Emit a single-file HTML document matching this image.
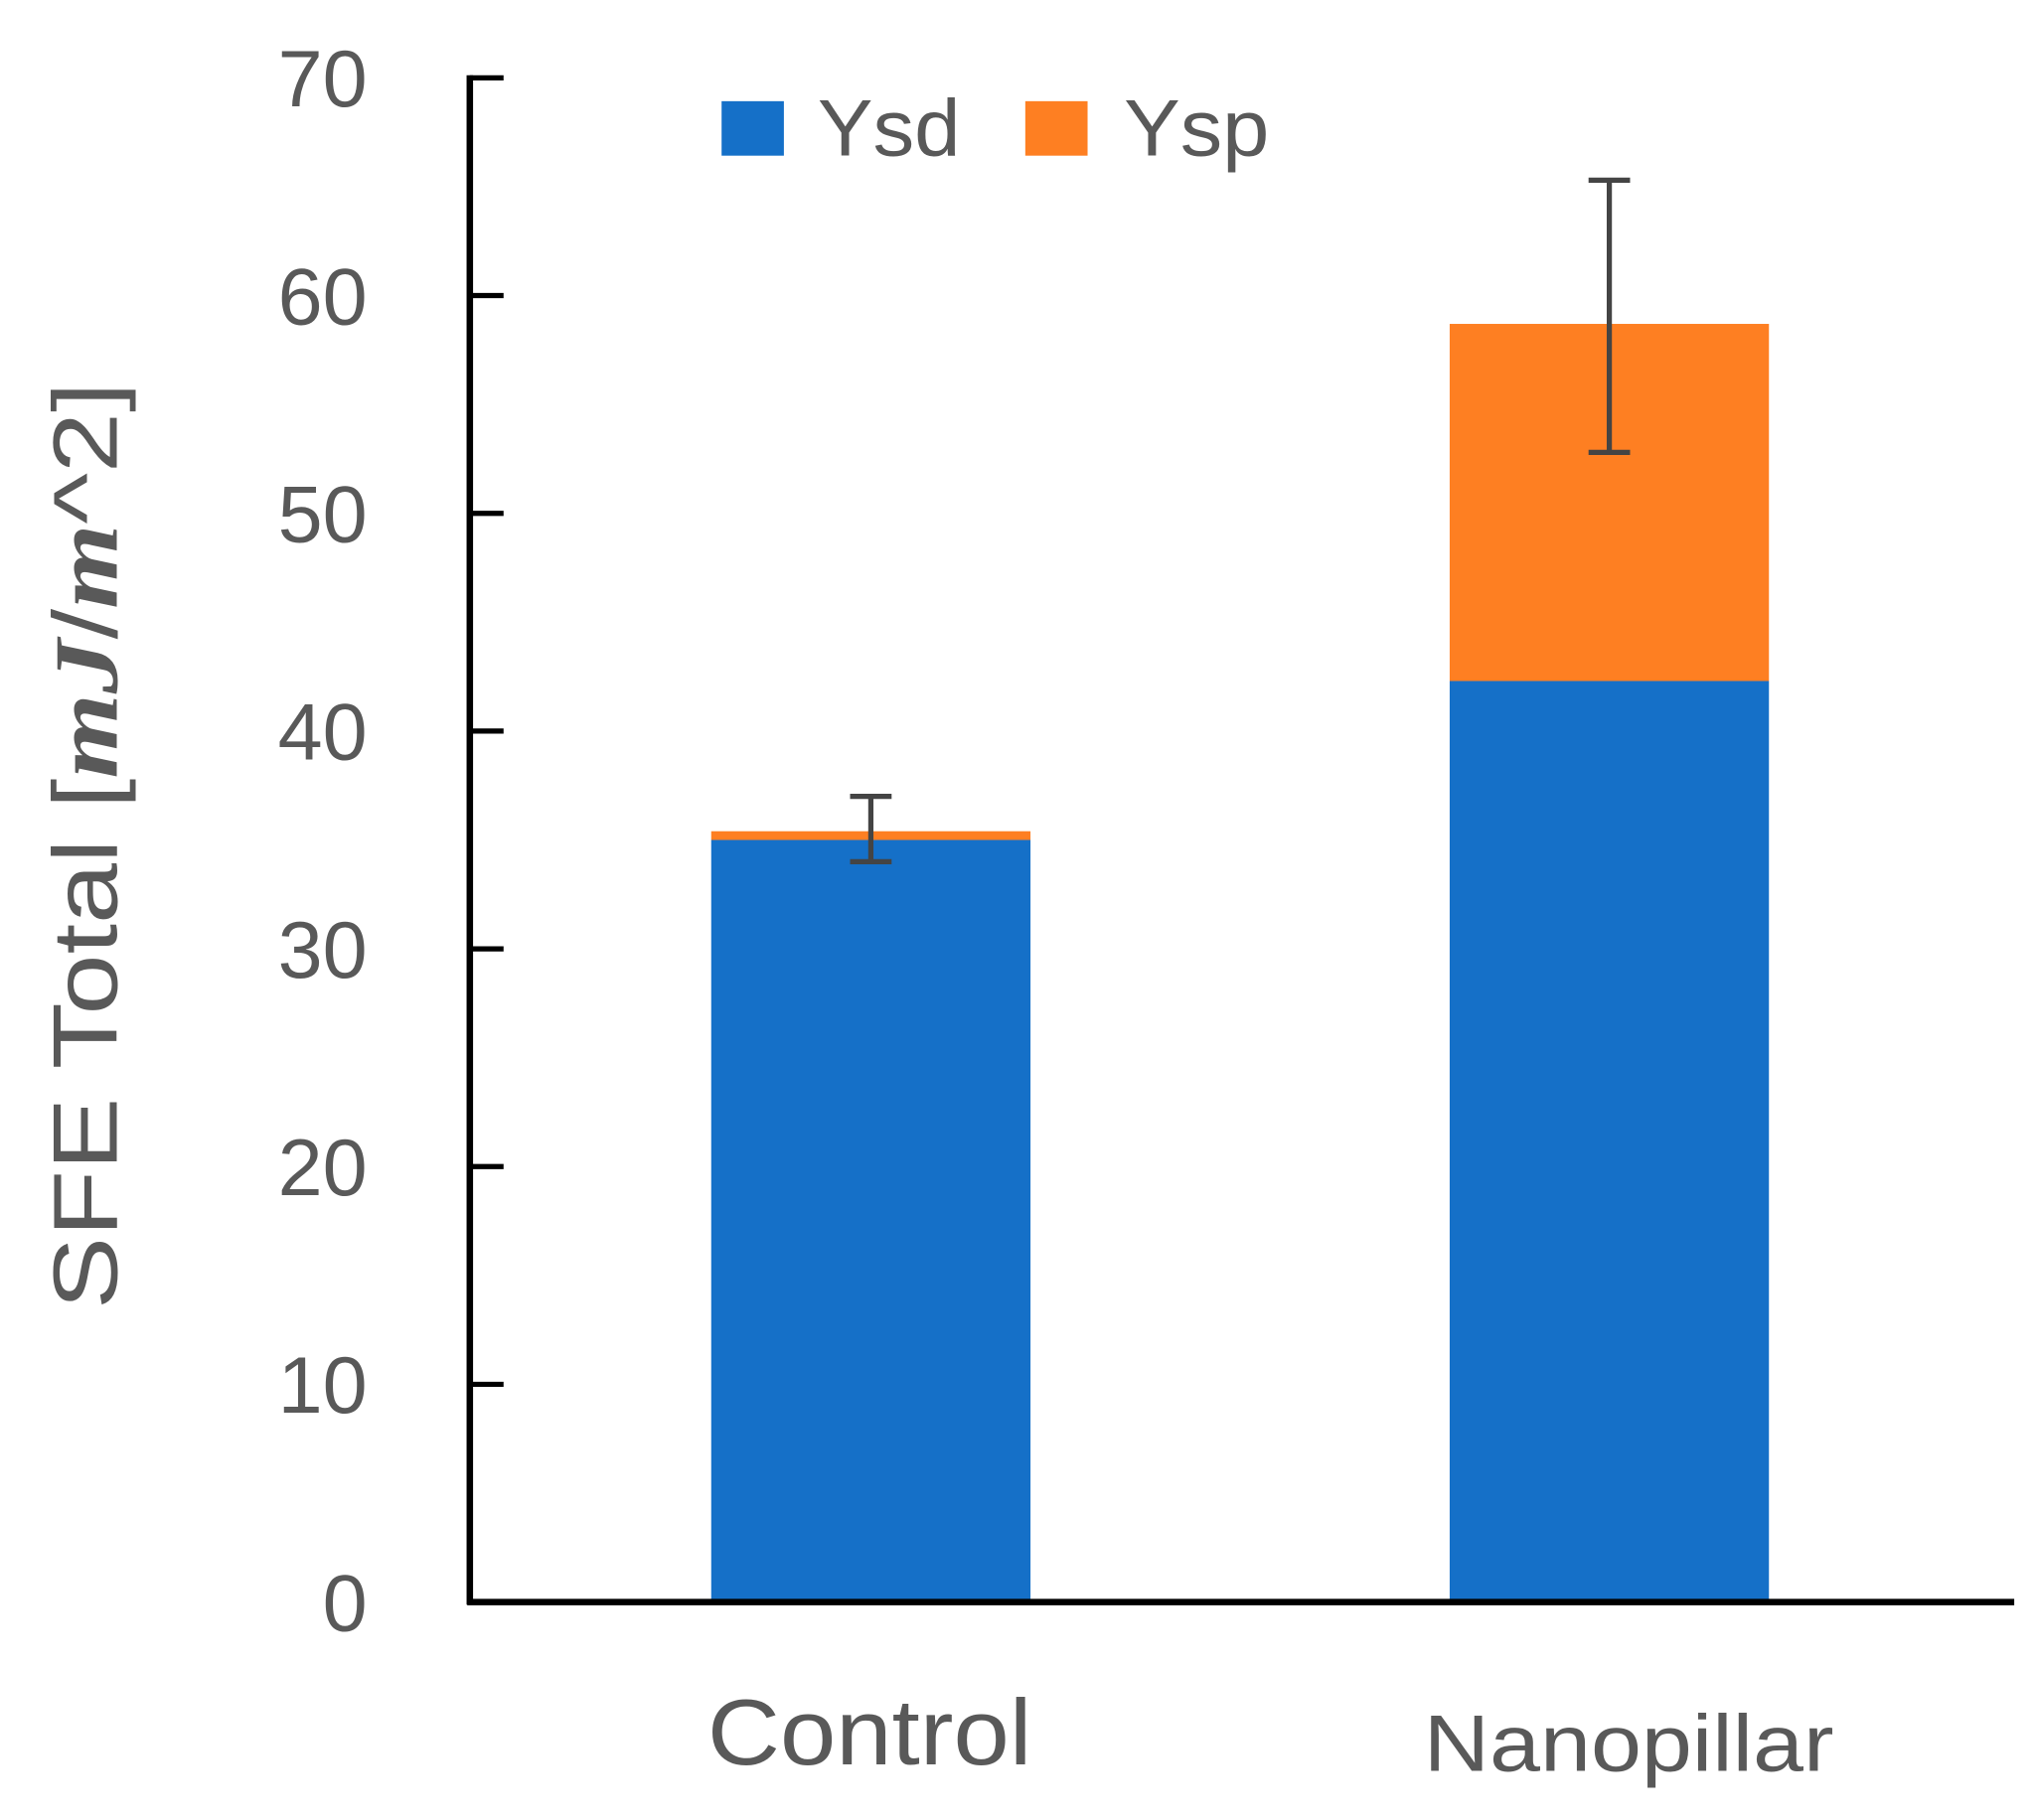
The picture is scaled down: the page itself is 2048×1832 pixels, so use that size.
<!DOCTYPE html>
<html><head><meta charset="utf-8"><style>html,body{margin:0;padding:0;background:#fff}svg{display:block}</style></head>
<body>
<svg id="chart" width="2048" height="1832" viewBox="0 0 1568 1403" preserveAspectRatio="none" xmlns="http://www.w3.org/2000/svg" font-family="Liberation Sans, sans-serif">
<g id="plot"></g>
<line x1="362" y1="58" x2="362" y2="1237" stroke="#000" stroke-width="5"/>
<line x1="360" y1="1235" x2="1552" y2="1235" stroke="#000" stroke-width="5"/>
<g>
<rect x="556" y="78" width="48" height="42" fill="#1570C8"/>
<text x="630" y="120" font-size="62" fill="#595959" textLength="110" lengthAdjust="spacingAndGlyphs">Ysd</text>
<rect x="790" y="78" width="48" height="42" fill="#FE7F22"/>
<text x="866" y="120" font-size="62" fill="#595959" textLength="112" lengthAdjust="spacingAndGlyphs">Ysp</text>
</g>
<text transform="translate(90,652) rotate(-90)" text-anchor="middle" font-size="70" fill="#595959" textLength="715" lengthAdjust="spacingAndGlyphs">SFE Total [<tspan font-family="Liberation Serif, serif" font-style="italic" font-weight="bold">mJ</tspan>/<tspan font-family="Liberation Serif, serif" font-style="italic" font-weight="bold">m</tspan>^2]</text>
<script>
var categories = ["Control", "Nanopillar"];
var ysdValues = [35.0, 42.3];
var yspValues = [0.4, 16.4];
var errHigh = [37.0, 65.3];
var errLow = [34.0, 52.8];
var yTicks = [0, 10, 20, 30, 40, 50, 60, 70];
var NS = "http://www.w3.org/2000/svg";
var g = document.getElementById("plot");
function yScale(v){ return 1235 - v * (1175/70); }
function xCenter(i){ return 671 + i * 569; }
var barW = 246;
var labelCenters = [670, 1255];
var labelLens = [250, 316];
function mk(tag, attrs, parent){ var e=document.createElementNS(NS,tag); for(var k in attrs) e.setAttribute(k,attrs[k]); (parent||g).appendChild(e); return e; }
yTicks.forEach(function(t){
  var tk = mk("line",{x1:362,x2:388,y1:yScale(t),y2:yScale(t),stroke:"#000","stroke-width":4});
  
  
  var lb = mk("text",{x:283,y:yScale(t)+22,"text-anchor":"end","font-size":62,fill:"#595959"});
  
  
  lb.textContent = t;
});
categories.forEach(function(c,i){
  var x = xCenter(i) - barW/2;
  var b = mk("rect",{x:x,y:yScale(ysdValues[i]),width:barW,height:yScale(0)-yScale(ysdValues[i]),fill:"#1570C8"});
  
  
  var top = ysdValues[i] + yspValues[i];
  var o = mk("rect",{x:x,y:yScale(top),width:barW,height:yScale(ysdValues[i])-yScale(top),fill:"#FE7F22"});
  
  
  var cx = xCenter(i);
  var eg = mk("g",{stroke:"#444","stroke-width":4});
  
  
  mk("line",{x1:cx,x2:cx,y1:yScale(errHigh[i]),y2:yScale(errLow[i])},eg);
  mk("line",{x1:cx-16,x2:cx+16,y1:yScale(errHigh[i]),y2:yScale(errHigh[i])},eg);
  mk("line",{x1:cx-16,x2:cx+16,y1:yScale(errLow[i]),y2:yScale(errLow[i])},eg);
  var lb = mk("text",{x:labelCenters[i],y:i==0?1360:1365,"text-anchor":"middle","font-size":i==0?72:62,fill:"#595959",textLength:labelLens[i],lengthAdjust:"spacingAndGlyphs"});
  
  
  lb.textContent = c;
});
</script>
</svg>
</body></html>
